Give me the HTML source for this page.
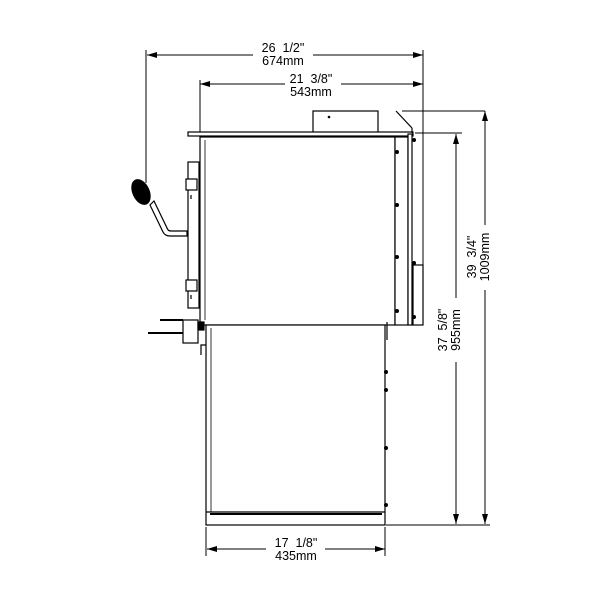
<!DOCTYPE html>
<html><head><style>body{margin:0;background:#fff}svg{display:block}text{white-space:pre}</style></head><body>
<svg width="600" height="600" viewBox="0 0 600 600" xmlns="http://www.w3.org/2000/svg" font-family="Liberation Sans, sans-serif" font-size="12.5" text-anchor="middle" xml:space="preserve">
<defs><marker id="a" viewBox="0 0 10 6" refX="10" refY="3" markerWidth="10" markerHeight="6" orient="auto-start-reverse" markerUnits="userSpaceOnUse"><path d="M0,0L10,3L0,6z" fill="#000"/></marker></defs>
<g stroke="#000" stroke-width="1" fill="none">
<line x1="146" y1="50" x2="146" y2="183"/>
<line x1="423" y1="50" x2="423" y2="325"/>
<line x1="200" y1="80" x2="200" y2="135"/>
<line x1="147" y1="55" x2="253" y2="55" marker-start="url(#a)"/>
<line x1="313" y1="55" x2="423" y2="55" marker-end="url(#a)"/>
<line x1="200" y1="84" x2="285" y2="84" marker-start="url(#a)"/>
<line x1="341" y1="84" x2="423" y2="84" marker-end="url(#a)"/>
<line x1="402" y1="111" x2="485" y2="111"/>
<line x1="415" y1="133" x2="462" y2="133"/>
<line x1="386" y1="525" x2="490" y2="525"/>
<line x1="485" y1="111" x2="485" y2="225" marker-start="url(#a)"/>
<line x1="485" y1="290" x2="485" y2="524" marker-end="url(#a)"/>
<line x1="456" y1="134" x2="456" y2="298" marker-start="url(#a)"/>
<line x1="456" y1="362" x2="456" y2="524" marker-end="url(#a)"/>
<line x1="206" y1="527" x2="206" y2="556"/>
<line x1="385" y1="527" x2="385" y2="556"/>
<line x1="207" y1="549" x2="266" y2="549" marker-start="url(#a)"/>
<line x1="325" y1="549" x2="385" y2="549" marker-end="url(#a)"/>
</g>
<g stroke="#000" fill="#fff" stroke-width="1.2">
<rect x="313" y="111" width="65" height="22"/>
<rect x="188" y="132" width="225" height="4"/>
<line x1="396" y1="111" x2="412" y2="128"/>
<line x1="412" y1="128" x2="412" y2="133"/>
<rect x="200" y="137" width="195" height="188"/>
<line x1="205" y1="140" x2="205" y2="320" stroke-width="0.8"/>
<rect x="395" y="137" width="13" height="188"/>
<rect x="408" y="134" width="4" height="191"/>
<rect x="413" y="265" width="10" height="60"/>
<rect x="188" y="162" width="11" height="146"/>
<rect x="186" y="179" width="11" height="11"/>
<rect x="186" y="280" width="11" height="11"/>
<line x1="191" y1="195" x2="191" y2="199"/>
<line x1="191" y1="295" x2="191" y2="299"/>
<path d="M150,205 L163,232 Q165,236 170,236 L187,236 L187,231 L171,231 Q168,231 167,228 L154,201z"/>
<ellipse cx="141" cy="192" rx="8" ry="13" transform="rotate(-25 141 192)" fill="#000"/>
<rect x="206" y="325" width="179" height="200"/>
<line x1="211" y1="328" x2="211" y2="512" stroke-width="0.8"/>
<line x1="206" y1="512" x2="385" y2="512"/>
<line x1="210" y1="514" x2="382" y2="514" stroke-width="2"/>
<rect x="183" y="320" width="15" height="23"/>
<line x1="160" y1="320" x2="183" y2="320" stroke-width="2"/>
<line x1="148" y1="333" x2="183" y2="333" stroke-width="2"/>
<path d="M206,345 L201,345 L201,355" fill="none"/>
<rect x="198" y="322" width="6" height="8" fill="#000"/>
<path d="M387,322 L387,340" fill="none"/>
</g>
<g fill="#000">
<circle cx="397" cy="152" r="2"/><circle cx="397" cy="205" r="2"/><circle cx="397" cy="257" r="2"/><circle cx="397" cy="311" r="2"/>
<circle cx="414" cy="140" r="2"/><circle cx="414" cy="263" r="2"/><circle cx="414" cy="317" r="2"/>
<circle cx="386" cy="372" r="2"/><circle cx="386" cy="390" r="2"/><circle cx="386" cy="448" r="2"/><circle cx="386" cy="505" r="2"/>
<circle cx="329" cy="117" r="1.3"/>
</g>
<g fill="#000">
<text x="283" y="52">26  1/2"</text><text x="283" y="65">674mm</text>
<text x="311" y="83">21  3/8"</text><text x="311" y="96">543mm</text>
<text x="296" y="547">17  1/8"</text><text x="296" y="560">435mm</text>
<text transform="translate(476,257) rotate(-90)">39  3/4"</text>
<text transform="translate(489,257) rotate(-90)">1009mm</text>
<text transform="translate(447,330) rotate(-90)">37  5/8"</text>
<text transform="translate(460,330) rotate(-90)">955mm</text>
</g>
</svg>
</body></html>
